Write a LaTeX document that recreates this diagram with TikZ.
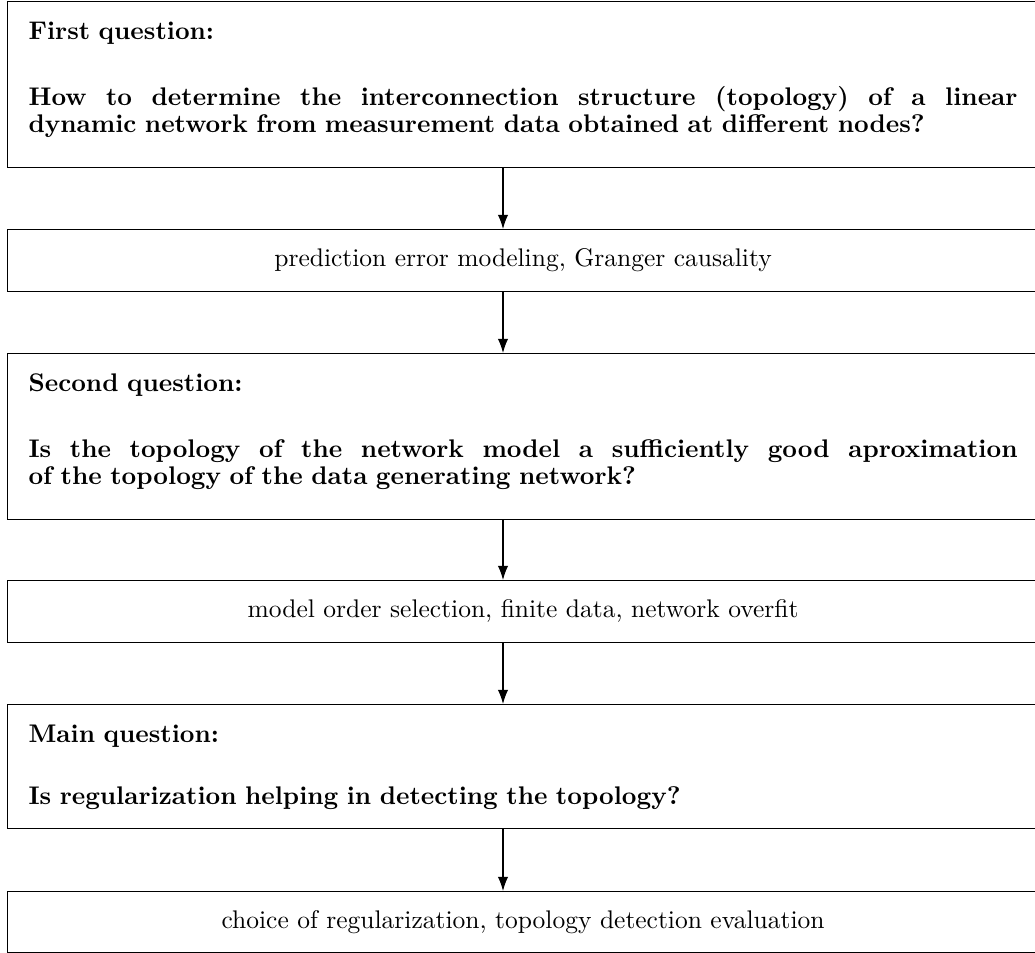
\documentclass[tikz,border=0pt]{standalone}
\usetikzlibrary{arrows.meta}
\newdimen\pxu
\pxu=0.39216pt
\newcommand{\fullline}[1]{\makebox[989\pxu][s]{\spaceskip=0pt\xspaceskip=0pt #1}}
\begin{document}
\begin{tikzpicture}[x=0.39216pt, y=-0.39216pt,
  box/.style={draw, line width=0.45pt, anchor=north west, inner xsep=21\pxu, inner ysep=0pt,
    text width=989\pxu, font=\fontsize{10pt}{27\pxu}\selectfont},
  qbox/.style={box, align=left, font=\fontsize{10pt}{27\pxu}\selectfont\bfseries},
  cbox/.style={box, align=center},
  arr/.style={-{Latex[length=5.5pt,width=4pt]}, line width=0.45pt}]
\useasboundingbox (0,0) rectangle (1035,953);
\clip (0,0) rectangle (1035,953);
\coordinate (ax) at (503,0);
\node[qbox] (b1) at (7,1) {\rule{0pt}{38\pxu}First question:\\[39\pxu]
\fullline{How to determine the interconnection structure (topology) of a linear}\\
dynamic network from measurement data obtained at different nodes?\rule[-35\pxu]{0pt}{35\pxu}};
\node[cbox] (b2) at (7,229) {\rule{0pt}{37\pxu}prediction error modeling, Granger causality\rule[-25\pxu]{0pt}{25\pxu}};
\node[qbox] (b3) at (7,353) {\rule{0pt}{38\pxu}Second question:\\[39\pxu]
\fullline{Is the topology of the network model a sufficiently good aproximation}\\
of the topology of the data generating network?\rule[-35\pxu]{0pt}{35\pxu}};
\node[cbox] (b4) at (7,580) {\rule{0pt}{37\pxu}model order selection, finite data, network overfit\rule[-25\pxu]{0pt}{25\pxu}};
\node[qbox] (b5) at (7,704) {\rule{0pt}{38\pxu}Main question:\\[35\pxu]
Is regularization helping in detecting the topology?\rule[-24\pxu]{0pt}{24\pxu}};
\node[cbox] (b6) at (7,891) {\rule{0pt}{37\pxu}choice of regularization, topology detection evaluation\rule[-24\pxu]{0pt}{24\pxu}};
\draw[arr] (b1.south -| ax) -- (b2.north -| ax);
\draw[arr] (b2.south -| ax) -- (b3.north -| ax);
\draw[arr] (b3.south -| ax) -- (b4.north -| ax);
\draw[arr] (b4.south -| ax) -- (b5.north -| ax);
\draw[arr] (b5.south -| ax) -- (b6.north -| ax);
\end{tikzpicture}
\end{document}
